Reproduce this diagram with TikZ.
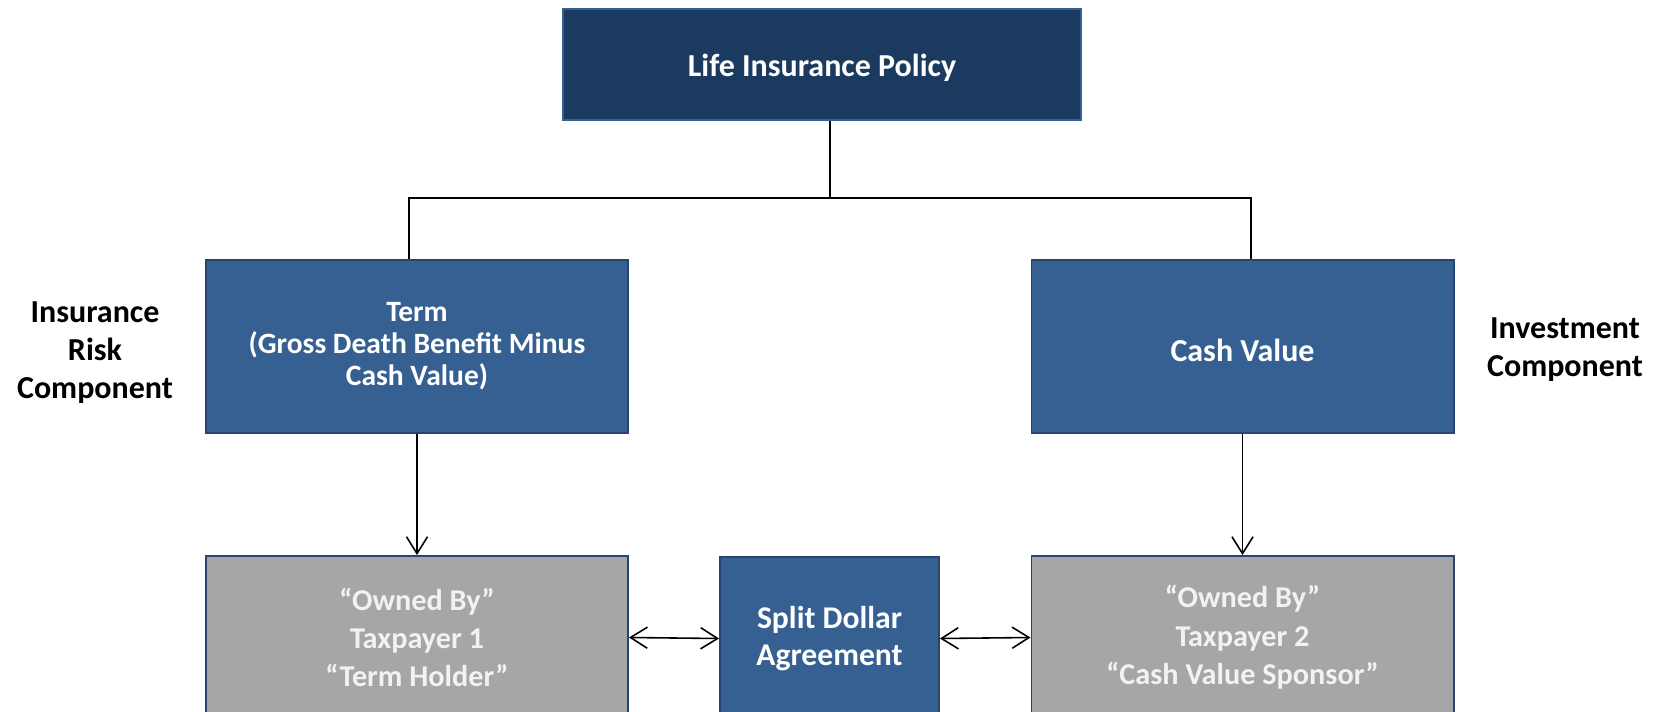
\documentclass[tikz,border=0pt]{standalone}
\usepackage{fontspec}
\setmainfont{Carlito}
\usetikzlibrary{arrows.meta,positioning,calc}

\definecolor{navy}{HTML}{1B3A60}
\definecolor{steel}{HTML}{366092}
\definecolor{edgeblue}{HTML}{274570}
\definecolor{boxgray}{HTML}{A6A6A6}

\tikzset{
    headbox/.style={rectangle, draw=steel, line width=0.6pt, fill=navy, text=white, align=center, inner sep=0pt, font=\bfseries\fontsize{9.1}{10.9}\selectfont},
    partbox/.style={rectangle, draw=edgeblue, line width=0.5pt, fill=steel, text=white, align=center, inner sep=0pt, minimum width=4.22cm, minimum height=1.73cm, font=\bfseries\fontsize{8.4}{9.1}\selectfont},
    ownerbox/.style={rectangle, draw=edgeblue, line width=0.5pt, fill=boxgray, text=white!95!black, align=center, inner sep=0pt, minimum width=4.22cm, minimum height=1.63cm, font=\bfseries\fontsize{8.6}{10.9}\selectfont},
    dealbox/.style={rectangle, draw=edgeblue, line width=0.5pt, fill=steel, text=white, align=center, inner sep=0pt, minimum width=2.19cm, minimum height=1.63cm, font=\bfseries\fontsize{9.0}{10.3}\selectfont},
    sidelabel/.style={align=center, inner sep=0pt, font=\bfseries\fontsize{9.1}{10.8}\selectfont},
    link/.style={line width=0.8pt},
    flow/.style={line width=0.45pt, -{Straight Barb[length=4.8pt,width=6pt]}},
    pair/.style={line width=0.45pt, {Straight Barb[length=4.8pt,width=6pt]}-{Straight Barb[length=4.8pt,width=6pt]}}
}

\begin{document}
\begin{tikzpicture}[x=0.01cm, y=-0.01cm]
    \clip (0,0) rectangle (1654,712);

    % Policy and its two parts
    \node[headbox, minimum width=5.18cm, minimum height=1.11cm, text height=8.8pt, text depth=1.9pt] (policy) at (822,64.5) {Life Insurance Policy};
    \node[partbox] (term) at (417,346.5) {Term\\(Gross Death Benefit Minus\\Cash Value)};
    \node[partbox, font=\bfseries\fontsize{9.1}{10.9}\selectfont, text height=8.8pt, text depth=0pt] (cash) at (1242.5,346.5) {Cash Value};

    % Side labels
    \node[sidelabel] (risk) at (95,353) {Insurance\\Risk\\Component};
    \node[sidelabel] (invest) at (1565,349.5) {Investment\\Component};

    % Owners and the agreement between them
    \node[ownerbox] (holder) at (417,637.5) {“Owned By”\\Taxpayer 1\\“Term Holder”};
    \node[dealbox] (split) at (829.5,638.5) {Split Dollar\\Agreement};
    \node[ownerbox] (sponsor) at (1242.5,637.5) {“Owned By”\\Taxpayer 2\\“Cash Value Sponsor”};

    % Tree
    \coordinate (fork) at (830,198);
    \draw[link] (policy.south -| fork) -- (fork);
    \draw[link] ([xshift=-0.08cm]term.north) |- (fork) -| ([xshift=0.085cm]cash.north);

    % Flows
    \draw[flow] (term.south) -- (holder.north);
    \draw[flow] (cash.south) -- (sponsor.north);
    \draw[pair] (holder.east) -- (split.west);
    \draw[pair] (split.east) -- (sponsor.west);
\end{tikzpicture}
\end{document}
